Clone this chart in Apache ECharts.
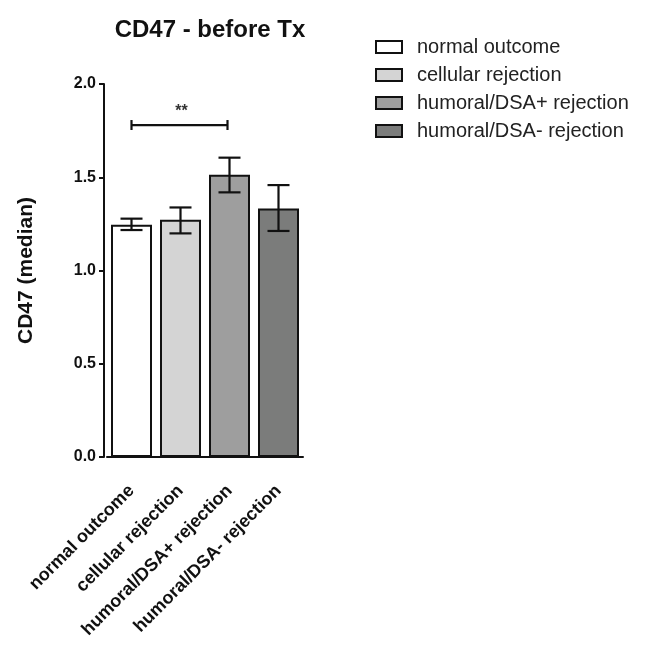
<!DOCTYPE html>
<html><head><meta charset="utf-8">
<script src="https://cdn.jsdelivr.net/npm/echarts@6/dist/echarts.min.js"></script>
<style>html,body{margin:0;padding:0;background:#fff}#c{width:652px;height:660px}</style>
</head><body><div id="c"></div>
<script>
const categories = ['normal outcome', 'cellular rejection', 'humoral/DSA+ rejection', 'humoral/DSA- rejection'];
const medians = [1.245, 1.272, 1.514, 1.332];
const errLow = [1.217, 1.199, 1.419, 1.212];
const errHigh = [1.278, 1.338, 1.605, 1.458];
const yTicks = [0, 0.5, 1.0, 1.5, 2.0];
const sigPair = [0, 2];
const sigLevel = 1.78;
const sigText = '**';
const colors = ['#ffffff', '#d4d4d4', '#9e9e9e', '#7b7c7b'];

const chart = echarts.init(document.getElementById('c'));
const font = 'Arial, "Liberation Sans", sans-serif';

const barSeries = categories.map((name, i) => ({
  name: name,
  type: 'bar',
  barWidth: 41,
  barGap: '-100%',
  data: categories.map((c, j) => j === i ? medians[j] : '-'),
  itemStyle: { color: colors[i], borderColor: '#111', borderWidth: 2 },
  emphasis: { disabled: true },
  z: 2
}));

const errData = categories.map((c, i) => [i, errLow[i], errHigh[i]]);

const errSeries = {
  type: 'custom',
  name: 'err',
  data: errData,
  z: 5,
  renderItem: function (params, api) {
    const x = api.value(0);
    const lo = api.coord([x, api.value(1)]);
    const hi = api.coord([x, api.value(2)]);
    const hw = 11;
    const st = { stroke: '#111', lineWidth: 2.2 };
    return {
      type: 'group',
      children: [
        { type: 'line', shape: { x1: lo[0], y1: lo[1], x2: hi[0], y2: hi[1] }, style: st },
        { type: 'line', shape: { x1: lo[0] - hw, y1: lo[1], x2: lo[0] + hw, y2: lo[1] }, style: st },
        { type: 'line', shape: { x1: hi[0] - hw, y1: hi[1], x2: hi[0] + hw, y2: hi[1] }, style: st }
      ]
    };
  }
};

const sigSeries = {
  type: 'custom',
  name: 'sig',
  data: [[sigPair[0], sigPair[1], sigLevel]],
  z: 5,
  renderItem: function (params, api) {
    const a = api.coord([api.value(0), api.value(2)]);
    const b = api.coord([api.value(1), api.value(2)]);
    const st = { stroke: '#111', lineWidth: 2.2 };
    return {
      type: 'group',
      children: [
        { type: 'line', shape: { x1: a[0], y1: a[1], x2: b[0] - 2, y2: b[1] }, style: st },
        { type: 'line', shape: { x1: a[0], y1: a[1] - 5, x2: a[0], y2: a[1] + 5 }, style: st },
        { type: 'line', shape: { x1: b[0] - 2, y1: b[1] - 5, x2: b[0] - 2, y2: b[1] + 5 }, style: st },
        { type: 'text', x: (a[0] + b[0]) / 2 + 1, y: a[1] - 5,
          style: { text: sigText, fill: '#333', font: 'bold 16px ' + font, align: 'center', verticalAlign: 'bottom' } }
      ]
    };
  }
};

chart.setOption({
  animation: false,
  backgroundColor: '#fff',
  title: {
    text: 'CD47 - before Tx',
    left: 205, top: 13, textAlign: 'center',
    textStyle: { fontFamily: font, fontSize: 24, fontWeight: 'bold', color: '#111' }
  },
  legend: {
    data: categories,
    orient: 'vertical',
    left: 370, top: 32,
    itemWidth: 26, itemHeight: 12,
    itemGap: 8,
    icon: 'rect',
    selectedMode: false,
    textStyle: { fontFamily: font, fontSize: 20, color: '#222', padding: [0, 0, 0, 10] }
  },
  grid: { left: 107, width: 196, top: 84, height: 373 },
  xAxis: {
    type: 'category',
    data: categories,
    axisLine: { lineStyle: { color: '#111', width: 2 } },
    axisTick: { alignWithLabel: true, length: 7, lineStyle: { color: '#111', width: 2 } },
    axisLabel: { rotate: 45, interval: 0, margin: 31, fontFamily: font, fontSize: 18, fontWeight: 'bold', color: '#111' }
  },
  yAxis: {
    type: 'value',
    min: 0, max: 2, interval: 0.5,
    offset: 3,
    name: 'CD47 (median)',
    nameLocation: 'middle',
    nameGap: 67,
    nameTextStyle: { fontFamily: font, fontSize: 21, fontWeight: 'bold', color: '#111' },
    splitLine: { show: false },
    axisLine: { show: true, lineStyle: { color: '#111', width: 2 } },
    axisTick: { show: true, length: 5, lineStyle: { color: '#111', width: 2 } },
    axisLabel: {
      margin: 8, fontFamily: font, fontSize: 16, fontWeight: 'bold', color: '#111',
      formatter: v => yTicks.includes(v) ? v.toFixed(1) : ''
    }
  },
  series: [...barSeries, errSeries, sigSeries]
});
</script></body></html>
